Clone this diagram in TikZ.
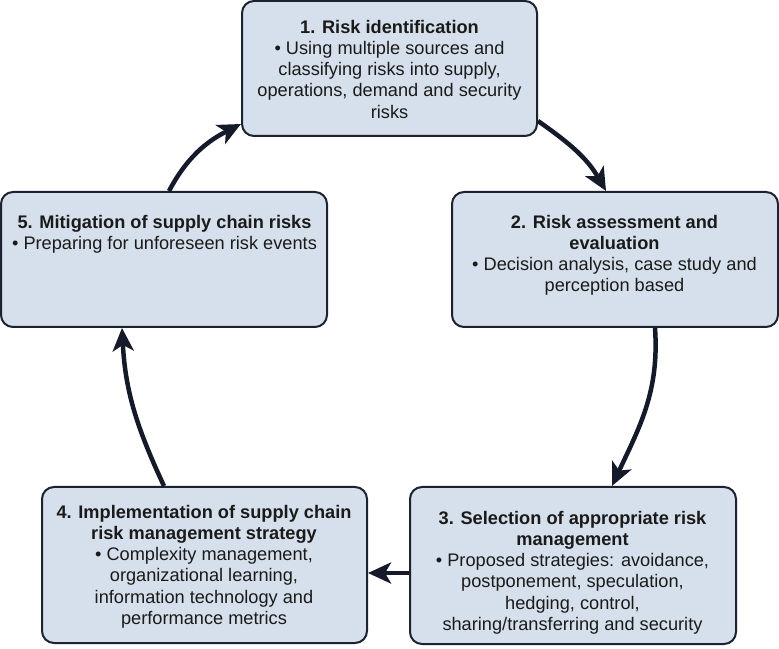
\documentclass[tikz,border=0pt]{standalone}
\usepackage{fontspec}
\setmainfont{Liberation Sans}
\usetikzlibrary{arrows.meta}
\definecolor{boxfill}{HTML}{D6E0EC}
\definecolor{boxline}{HTML}{1E2230}
\definecolor{arrowcol}{HTML}{151A2A}
\definecolor{txtcol}{HTML}{1A1A1A}
\begin{document}
\begin{tikzpicture}[x=1pt,y=1pt,
  box/.style={draw=boxline, line width=2pt, fill=boxfill, rounded corners=12pt, inner sep=0pt},
  label text/.style={anchor=north, align=center, inner sep=0pt, text=txtcol,
    font=\fontsize{18.2}{21.2}\selectfont},
  flow/.style={draw=arrowcol, line width=4.5pt,
    -{Stealth[length=23pt,width=21pt,inset=6pt]}}]
\useasboundingbox (0,0) rectangle (779,648);
% boxes
\node[box, minimum width=295pt, minimum height=135pt] (b1) at (389.5,579.5) {};
\node[box, minimum width=326pt, minimum height=135pt] (b2) at (615,388.5) {};
\node[box, minimum width=326pt, minimum height=157pt] (b3) at (573,82.5) {};
\node[box, minimum width=325pt, minimum height=156pt] (b4) at (204.5,83) {};
\node[box, minimum width=326pt, minimum height=135pt] (b5) at (164,388.5) {};
% texts
\node[label text] (t1) at (389.5,628) {\textbf{1. Risk identification}\\
  • Using multiple sources and\\classifying risks into supply,\\operations, demand and security\\risks};
\node[label text] (t2) at (614.5,433) {\textbf{2. Risk assessment and}\\\textbf{evaluation}\\
  • Decision analysis, case study and\\perception based};
\node[label text] (t3) at (572.5,137) {\textbf{3. Selection of appropriate risk}\\\textbf{management}\\
  • Proposed strategies: avoidance,\\postponement, speculation,\\hedging, control,\\sharing/transferring and security};
\node[label text] (t4) at (204,143) {\textbf{4. Implementation of supply chain}\\\textbf{risk management strategy}\\
  • Complexity management,\\organizational learning,\\information technology and\\performance metrics};
\node[label text] (t5) at (164.5,433) {\textbf{5. Mitigation of supply chain risks}\\
  • Preparing for unforeseen risk events};
% connectors
\draw[flow] ([xshift=169pt]b5.north west) to[out=62,in=207] ([yshift=13pt]b1.south west);
\draw[flow] ([yshift=16pt]b1.south east) to[out=-35,in=120] ([xshift=155pt]b2.north west);
\draw[flow] ([xshift=204pt]b2.south west) to[out=-86,in=65] ([xshift=203pt]b3.north west);
\draw[flow] ([yshift=-7.5pt]b3.west) -- ([yshift=-8pt]b4.east);
\draw[flow] ([xshift=123pt]b4.north west) to[out=115,in=-87] ([xshift=122pt]b5.south west);
\end{tikzpicture}
\end{document}
